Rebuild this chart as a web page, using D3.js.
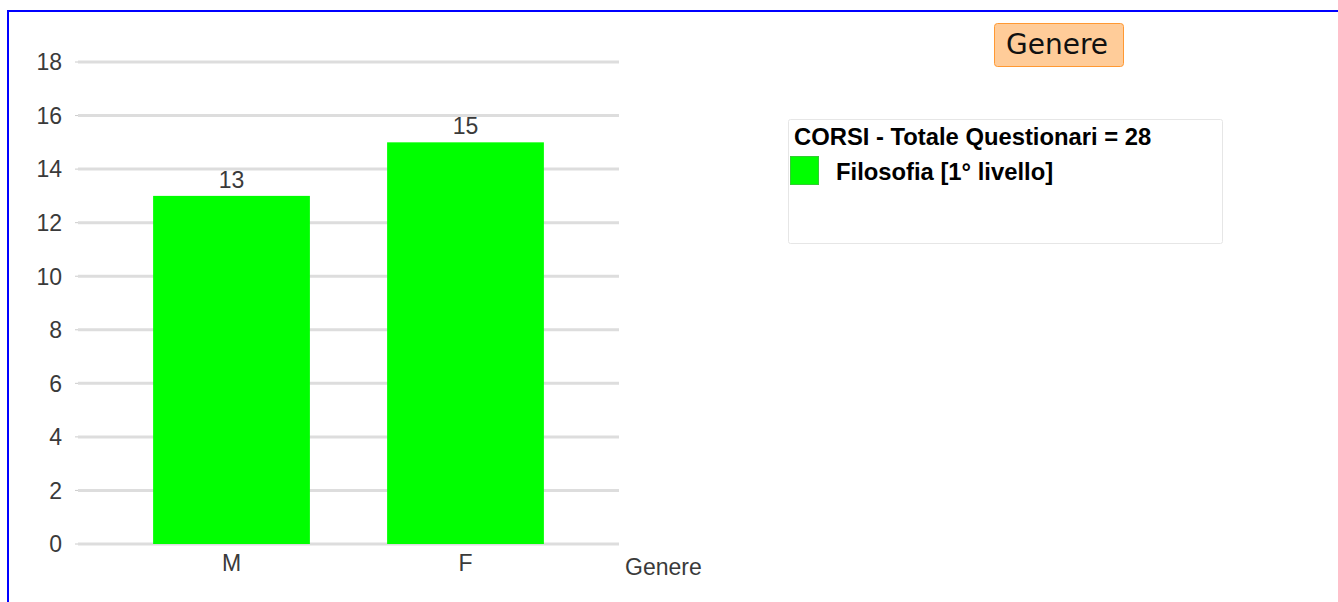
<!DOCTYPE html>
<html><head><meta charset="utf-8">
<script src="https://cdn.jsdelivr.net/npm/d3@7"></script>
<style>body{margin:0;background:#fff;}svg{display:block;}</style>
</head><body>
<svg id="c" width="1338" height="602"></svg>
<script>
const categories = ["M", "F"];
const values = [13, 15];
const yTicks = [0, 2, 4, 6, 8, 10, 12, 14, 16, 18];
const seriesName = "Filosofia [1° livello]";
const legendTitle = "CORSI - Totale Questionari = 28";
const chartTitle = "Genere";
const xTitle = "Genere";
const barColor = "#00ff00";

const svg = d3.select("#c");
const font = "'Liberation Sans', Arial, sans-serif";

// frame
svg.append("rect").attr("x", 8).attr("y", 11).attr("width", 1400).attr("height", 700)
  .attr("fill", "none").attr("stroke", "#0000ff").attr("stroke-width", 2);

const y = d3.scaleLinear().domain([0, 18]).range([544, 62]);
const x = d3.scaleBand().domain(categories).range([114.5, 582.5]).paddingInner(0.33).paddingOuter(0.165);

// grid
const g = svg.append("g");
g.selectAll("line.grid").data(yTicks).join("line").attr("class", "grid")
  .attr("x1", 78).attr("x2", 619).attr("y1", d => y(d)).attr("y2", d => y(d))
  .attr("stroke", "#dddddd").attr("stroke-width", 3);
g.selectAll("line.tk").data(yTicks).join("line").attr("class", "tk")
  .attr("x1", 75).attr("x2", 78).attr("y1", d => y(d)).attr("y2", d => y(d))
  .attr("stroke", "#cccccc").attr("stroke-width", 1);
g.selectAll("text.yl").data(yTicks).join("text").attr("class", "yl")
  .attr("x", 62).attr("y", d => y(d)).attr("dy", "0.36em").attr("text-anchor", "end")
  .attr("font-family", font).attr("font-size", 23).attr("fill", "#3a3a3a")
  .text(d => d);

// bars
svg.selectAll("rect.bar").data(values).join("rect").attr("class", "bar")
  .attr("x", (d, i) => x(categories[i])).attr("width", x.bandwidth())
  .attr("y", d => y(d)).attr("height", d => y(0) - y(d)).attr("fill", barColor);
svg.selectAll("text.vl").data(values).join("text").attr("class", "vl")
  .attr("x", (d, i) => x(categories[i]) + x.bandwidth() / 2).attr("y", d => y(d) - 8)
  .attr("text-anchor", "middle").attr("font-family", font).attr("font-size", 23).attr("fill", "#3a3a3a")
  .text(d => d);

// x labels
svg.selectAll("text.xl").data(categories).join("text").attr("class", "xl")
  .attr("x", d => x(d) + x.bandwidth() / 2).attr("y", 571)
  .attr("text-anchor", "middle").attr("font-family", font).attr("font-size", 23).attr("fill", "#3a3a3a")
  .text(d => d);
svg.append("text").attr("x", 625).attr("y", 575).attr("font-family", font).attr("font-size", 23)
  .attr("fill", "#3a3a3a").text(xTitle);

// title button
svg.append("rect").attr("x", 994.5).attr("y", 23.5).attr("width", 129).attr("height", 43).attr("rx", 3)
  .attr("fill", "#ffcc99").attr("stroke", "#ff9933").attr("stroke-width", 1);
svg.append("text").attr("x", 1057).attr("y", 54).attr("text-anchor", "middle")
  .attr("font-family", "'DejaVu Sans', Verdana, sans-serif").attr("font-size", 28).attr("fill", "#111")
  .text(chartTitle);

// legend
const lg = svg.append("g");
lg.append("rect").attr("x", 788.5).attr("y", 119.5).attr("width", 434).attr("height", 124).attr("rx", 2)
  .attr("fill", "#fff").attr("stroke", "#e6e6e6");
lg.append("text").attr("x", 794).attr("y", 145).attr("font-family", font).attr("font-size", 23.8)
  .attr("font-weight", "bold").attr("fill", "#000").text(legendTitle);
lg.append("rect").attr("x", 790.5).attr("y", 156.5).attr("width", 28).attr("height", 28)
  .attr("fill", barColor).attr("stroke", "#33cc33");
lg.append("text").attr("x", 836).attr("y", 180).attr("font-family", font).attr("font-size", 23.8)
  .attr("font-weight", "bold").attr("fill", "#000").text(seriesName);
</script>
</body></html>
